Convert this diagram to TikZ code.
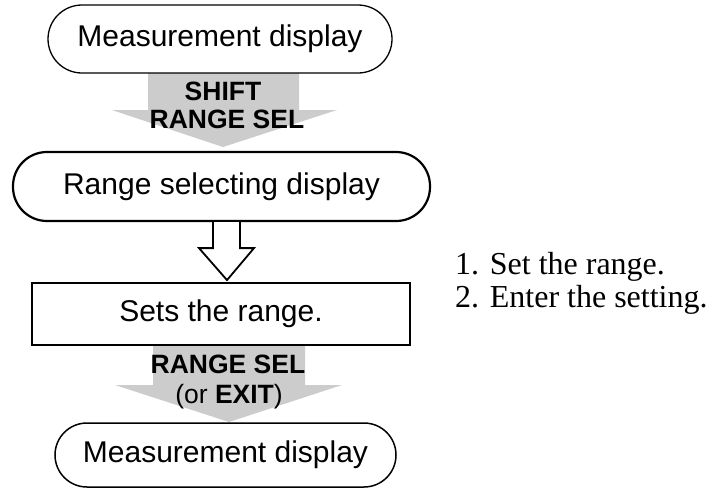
\documentclass[tikz,border=0pt]{standalone}
\usepackage{fontspec}
\setmainfont{Liberation Sans}
\newfontfamily\notefont{Liberation Serif}
\usetikzlibrary{calc}
\definecolor{arrowgray}{RGB}{204,204,204}
\tikzset{
  term/.style={draw, line width=1.5pt, rounded corners=34pt, inner sep=0pt,
    font=\fontsize{30}{32}\selectfont},
  procbox/.style={draw, line width=1.8pt, inner sep=0pt,
    font=\fontsize{30}{32}\selectfont},
  keylbl/.style={anchor=base, inner sep=0pt, font=\fontsize{26.5}{28}\selectfont},
  blockarrow/.style={fill=arrowgray, draw=none},
  hollowarrow/.style={draw, line width=1.8pt, fill=white, line join=miter},
  note/.style={anchor=base west, inner sep=0pt, font=\notefont\fontsize{32}{35}\selectfont}
}
\begin{document}
\begin{tikzpicture}[x=1pt,y=-1pt]
\useasboundingbox (0,0) rectangle (714,488);

% gray block arrows (behind)
\fill[blockarrow] (148,73) -- (148,110) -- (112,110) -- (223,147) -- (337,110) -- (299,110) -- (299,73) -- cycle;
\fill[blockarrow] (153,345) -- (153,385) -- (115,385) -- (229,422) -- (342,385) -- (305,385) -- (305,345) -- cycle;

% nodes
\node[term, line width=1.3pt, minimum width=344pt, minimum height=68pt] (t1) at (220,39) {Measurement display};
\node[term, line width=2.2pt, minimum width=417pt, minimum height=69pt] (t2) at (221.5,186.5) {Range selecting display};
\node[procbox, minimum width=378pt, minimum height=62pt] (box) at (221,314) {Sets the range.};
\node[term, rounded corners=32pt, minimum width=341pt, minimum height=64pt] (t3) at (225.5,455) {Measurement display};

% key labels
\node[keylbl] (k1) at (223,100) {\bfseries SHIFT};
\node[keylbl] (k2) at (227,128) {\bfseries RANGE SEL};
\node[keylbl] (k3) at (228,373) {\bfseries RANGE SEL};
\node[keylbl] (k4) at (229,403) {(or \textbf{EXIT})};

% hollow arrow from t2 to box
\draw[hollowarrow] ($(t2.south)+(-8.5,0)$) -- ++(0,26) -- ++(-14,0) -- ($(box.north)+(6,-2)$) -- ($(t2.south)+(32.5,26)$) -- ++(-14,0) -- ++(0,-26);

% notes
\node[note] (n1) at (455,274) {1. Set the range.};
\node[note] (n2) at (455,307) {2. Enter the setting.};
\end{tikzpicture}
\end{document}
